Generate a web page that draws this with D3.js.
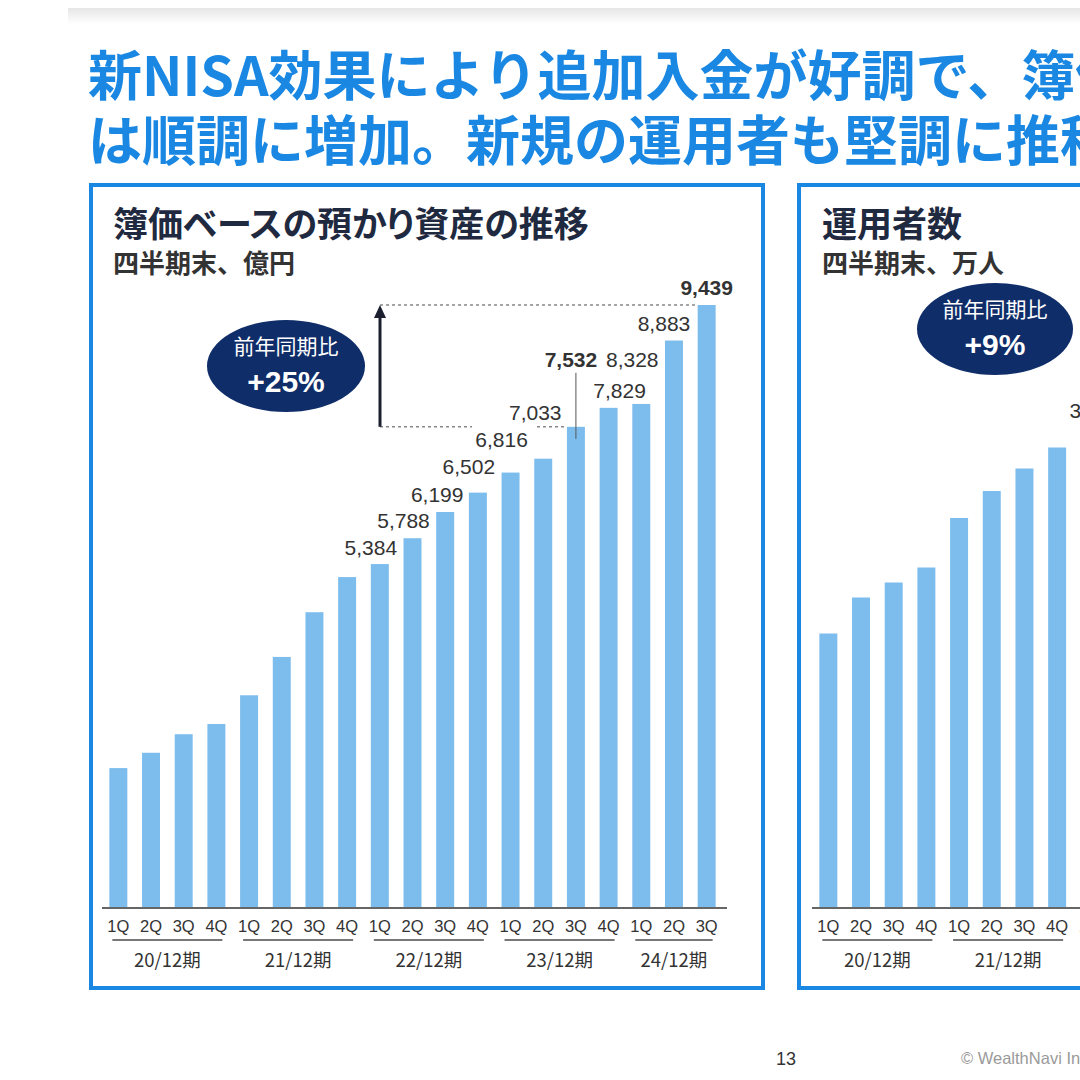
<!DOCTYPE html>
<html><head><meta charset="utf-8">
<script src="https://cdn.jsdelivr.net/npm/d3@7"></script>
<style>
html,body{margin:0;padding:0;background:#fff;}
svg{display:block;}
.jp{font-family:"Noto Sans CJK JP","Noto Sans",sans-serif;}
.palt{font-feature-settings:"palt";}
.num{font-family:"Liberation Sans",Arial,sans-serif;}
</style></head>
<body>
<script>
// ---------- data ----------
const quarters = ["1Q","2Q","3Q","4Q","1Q","2Q","3Q","4Q","1Q","2Q","3Q","4Q","1Q","2Q","3Q","4Q","1Q","2Q","3Q"];
const fiscalYears = ["20/12期","21/12期","22/12期","23/12期","24/12期"];
const periodIds = quarters.map((q,i)=>fiscalYears[Math.floor(i/4)]+"-"+q);
// 簿価ベースの預かり資産 (億円)
const assetValues = [2190,2430,2720,2880,3330,3930,4630,5180,5384,5788,6199,6502,6816,7033,7532,7829,7890,8883,9439];
const assetLabels = [null,null,null,null,null,null,null,null,"5,384","5,788","6,199","6,502","6,816","7,033","7,532","7,829","8,328","8,883","9,439"];
// 運用者数 (万人) - visible part only
const userValues = [18.3,20.7,21.7,22.7,26.0,27.8,29.3,30.7,32.0];
const userLabels = [null,null,null,null,null,null,null,null,"32.0"];
const headline = ["新NISA効果により追加入金が好調で、簿価ベースの預かり資産","は順調に増加。新規の運用者も堅調に推移"];
const yoyAssets = "+25%";
const yoyUsers = "+9%";

// ---------- styles ----------
const BLUE = "#1a88e3", BAR = "#7dbdee", NAVY = "#0f2d69", TXT = "#333";
const labelStyle = { // dx, dy from bar top, bold
  8:[-9,-9],9:[-9,-10],10:[-8,-10],11:[-9,-19],12:[-9,-26],13:[-8,-39],
  14:[-5,-60,true],15:[11,-10],16:[-9,-37],17:[-10,-10],18:[0,-10,true]
};

const W=1080,H=1080;
const svg = d3.select("body").append("svg").attr("width",W).attr("height",H);

// top shadow band
const defs = svg.append("defs");
const g1 = defs.append("linearGradient").attr("id","band").attr("x1",0).attr("y1",0).attr("x2",0).attr("y2",1);
g1.append("stop").attr("offset","0%").attr("stop-color","#e6e6e6");
g1.append("stop").attr("offset","100%").attr("stop-color","#ffffff");
svg.append("rect").attr("x",68).attr("y",8).attr("width",W-68).attr("height",16).attr("fill","url(#band)");

// headline
svg.selectAll("text.head").data(headline).join("text")
  .attr("class","jp head").attr("x",88).attr("y",(d,i)=>96+i*65)
  .attr("font-size",54).attr("font-weight",700).attr("fill",BLUE).text(d=>d);

// panels
svg.append("rect").attr("x",91).attr("y",185).attr("width",672).attr("height",803)
  .attr("fill","none").attr("stroke",BLUE).attr("stroke-width",4);
svg.append("rect").attr("x",799).attr("y",185).attr("width",672).attr("height",803)
  .attr("fill","none").attr("stroke",BLUE).attr("stroke-width",4);

function panelTitle(x,t1,t2){
  svg.append("text").attr("class","jp palt").attr("x",x).attr("y",237).attr("font-size",35)
    .attr("font-weight",700).attr("fill","#1f2a40").text(t1);
  svg.append("text").attr("class","jp").attr("x",x).attr("y",273).attr("font-size",26)
    .attr("font-weight",700).attr("fill",TXT).text(t2);
}
panelTitle(113,"簿価ベースの預かり資産の推移","四半期末、億円");
panelTitle(822,"運用者数","四半期末、万人");

const BASE=908, TOP=305;

function drawChart(ids, values, labels, x, y, lstyle, groupCount){
  const g = svg.append("g");
  g.selectAll("rect.bar").data(values).join("rect").attr("class","bar")
    .attr("x",(d,i)=>x(ids[i])).attr("width",x.bandwidth())
    .attr("y",d=>y(d)).attr("height",d=>y(0)-y(d)).attr("fill",BAR);
  // axis line
  g.append("line").attr("x1",x.range()[0]).attr("x2",x.range()[1]+4)
    .attr("y1",y(0)).attr("y2",y(0)).attr("stroke","#666").attr("stroke-width",2);
  // quarter labels
  g.selectAll("text.q").data(ids).join("text").attr("class","num q")
    .attr("x",d=>x(d)+x.bandwidth()/2).attr("y",y(0)+24).attr("text-anchor","middle")
    .attr("font-size",16.5).attr("fill",TXT).text((d,i)=>quarters[i]);
  // groups
  const groups = fiscalYears.slice(0,groupCount).map((fy,gi)=>({fy,items:ids.filter((d,i)=>Math.floor(i/4)===gi)}));
  groups.forEach(o=>{
    const x0 = x(o.items[0])+x.bandwidth()/2-6, x1 = x(o.items[o.items.length-1])+x.bandwidth()/2+6;
    g.append("line").attr("x1",x0).attr("x2",x1).attr("y1",y(0)+32).attr("y2",y(0)+32)
      .attr("stroke","#777").attr("stroke-width",2);
    g.append("text").attr("class","jp").attr("x",(x0+x1)/2).attr("y",y(0)+59)
      .attr("text-anchor","middle").attr("font-size",18.5).attr("fill",TXT).text(o.fy);
  });
  // value labels
  values.forEach((v,i)=>{
    if(!labels[i]) return;
    const s = lstyle[i]||[0,-10];
    g.append("text").attr("class","num").attr("x",x(ids[i])+x.bandwidth()/2+s[0]).attr("y",y(v)+s[1])
      .attr("text-anchor","middle").attr("font-size",21).attr("font-weight",s[2]?700:400)
      .attr("fill",TXT).text(labels[i]);
  });
  return g;
}

// left chart
const xL = d3.scaleBand().domain(periodIds).range([102,723]).paddingInner(0.45).paddingOuter(0.225);
const yL = d3.scaleLinear().domain([0,d3.max(assetValues)]).range([BASE,TOP]);
drawChart(periodIds, assetValues, assetLabels, xL, yL, labelStyle, 5);

// annotations left
const cx = i=>xL(periodIds[i])+xL.bandwidth()/2;
const arrowX = 380;
const ann = svg.append("g");
ann.append("line").attr("x1",arrowX).attr("x2",xL(periodIds[18])).attr("y1",yL(9439)).attr("y2",yL(9439))
  .attr("stroke","#888").attr("stroke-width",1.5).attr("stroke-dasharray","3,3");
ann.append("line").attr("x1",arrowX).attr("x2",472).attr("y1",yL(7532)).attr("y2",yL(7532))
  .attr("stroke","#888").attr("stroke-width",1.5).attr("stroke-dasharray","3,3");
ann.append("line").attr("x1",537).attr("x2",xL(periodIds[14])).attr("y1",yL(7532)).attr("y2",yL(7532))
  .attr("stroke","#888").attr("stroke-width",1.5).attr("stroke-dasharray","3,3");
ann.append("line").attr("x1",arrowX).attr("x2",arrowX).attr("y1",yL(7532)).attr("y2",yL(9439)+10)
  .attr("stroke","#1b1f2e").attr("stroke-width",3);
ann.append("path").attr("d",`M${arrowX},${yL(9439)} L${arrowX-6},${yL(9439)+13} L${arrowX+6},${yL(9439)+13} Z`).attr("fill","#1b1f2e");
// leader for 7,532
ann.append("line").attr("x1",cx(14)).attr("x2",cx(14)).attr("y1",yL(7532)-54).attr("y2",yL(7532)+12)
  .attr("stroke","#555").attr("stroke-width",1);

function badge(x,y,rx,ry,pct){
  const b = svg.append("g");
  b.append("ellipse").attr("cx",x).attr("cy",y).attr("rx",rx).attr("ry",ry).attr("fill",NAVY);
  b.append("text").attr("class","jp").attr("x",x).attr("y",y-12).attr("text-anchor","middle")
    .attr("font-size",21).attr("fill","#fff").text("前年同期比");
  b.append("text").attr("class","num").attr("x",x).attr("y",y+26).attr("text-anchor","middle")
    .attr("font-size",30).attr("font-weight",700).attr("fill","#fff").text(pct);
}
badge(286,366,79,46,yoyAssets);

// right chart
const userIds = periodIds.slice(0,userValues.length);
const step = 621/19;
const xR = d3.scaleBand().domain(userIds).range([812,812+step*userIds.length]).paddingInner(0.45).paddingOuter(0.225);
const yR = d3.scaleLinear().domain([0,40.2]).range([BASE,TOP]);
drawChart(userIds, userValues, userLabels, xR, yR, {8:[0,-10]}, 2);
badge(995,329,78,46,yoyUsers);

// footer
svg.append("text").attr("class","num").attr("x",786).attr("y",1065).attr("text-anchor","middle")
  .attr("font-size",18).attr("fill",TXT).text("13");
svg.append("text").attr("class","num").attr("x",961).attr("y",1064)
  .attr("font-size",16.5).attr("fill","#9a9a9a").text("© WealthNavi Inc.");
</script>
</body></html>
